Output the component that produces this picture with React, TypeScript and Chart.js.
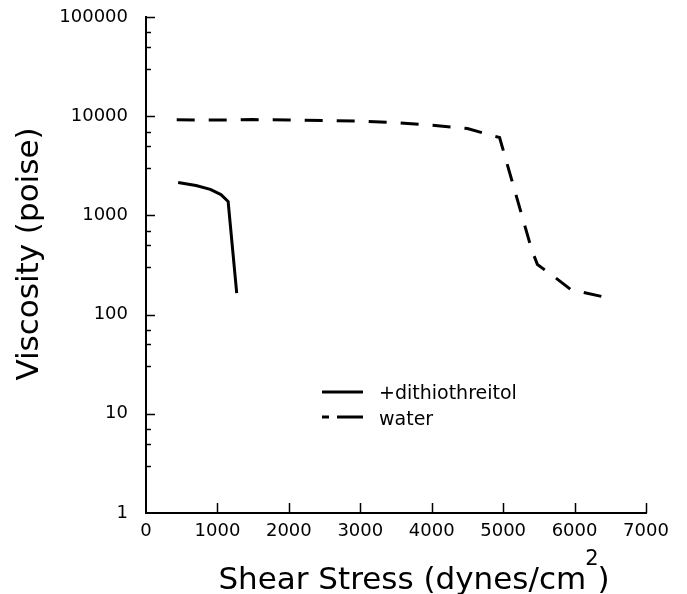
import React, { useEffect, useRef } from "react";
import { Chart, registerables } from "chart.js";

Chart.register(...registerables);

// ---- data ----
const DTT_LABEL = "+dithiothreitol";
const DTT_X = [450, 700, 900, 1050, 1150, 1270];
const DTT_Y = [2150, 2000, 1830, 1620, 1380, 165];

const WATER_LABEL = "water";
const WATER_X = [430, 1000, 1500, 2000, 2500, 3000, 3500, 4000, 4500, 4950, 5400, 5480, 5700, 5950, 6500];
const WATER_Y = [9200, 9150, 9250, 9150, 9050, 8900, 8600, 8100, 7500, 6100, 450, 320, 245, 178, 146];

const X_TICKS = [0, 1000, 2000, 3000, 4000, 5000, 6000, 7000];
const Y_TICKS = [1, 10, 100, 1000, 10000, 100000];
const Y_MINOR_FACTORS = [3, 5, 7];

const X_TITLE = "Shear Stress (dynes/cm";
const X_TITLE_SUP = "2";
const X_TITLE_END = ")";
const Y_TITLE = "Viscosity (poise)";

const FONT = "'DejaVu Sans', sans-serif";

const decorPlugin = {
  id: "decor",
  afterDraw(chart: any) {
    const ctx = chart.ctx;
    const xs = chart.scales.x;
    const ys = chart.scales.y;
    const ca = chart.chartArea;
    ctx.save();
    ctx.strokeStyle = "#000";
    ctx.fillStyle = "#000";
    // axis lines
    ctx.lineWidth = 2;
    ctx.lineCap = "square";
    ctx.beginPath();
    ctx.moveTo(ca.left, ca.top);
    ctx.lineTo(ca.left, ca.bottom);
    ctx.lineTo(ca.right, ca.bottom);
    ctx.stroke();
    ctx.lineCap = "butt";
    ctx.lineWidth = 1.5;
    // x ticks (inward)
    X_TICKS.forEach((v) => {
      if (v === 0) return;
      const px = Math.round(xs.getPixelForValue(v)) + 0.5;
      ctx.beginPath();
      ctx.moveTo(px, ca.bottom);
      ctx.lineTo(px, ca.bottom - 10);
      ctx.stroke();
    });
    // y ticks
    Y_TICKS.forEach((v, i) => {
      if (v !== 1) {
        const py = Math.round(ys.getPixelForValue(v)) + 0.5;
        ctx.beginPath();
        ctx.moveTo(ca.left, py);
        ctx.lineTo(ca.left + 9, py);
        ctx.stroke();
      }
      if (i < Y_TICKS.length - 1) {
        Y_MINOR_FACTORS.forEach((f) => {
          const py = Math.round(ys.getPixelForValue(v * f)) + 0.5;
          ctx.beginPath();
          ctx.moveTo(ca.left, py);
          ctx.lineTo(ca.left + 5, py);
          ctx.stroke();
        });
      }
    });

    // y title
    ctx.font = `31px ${FONT}`;
    ctx.textAlign = "center";
    ctx.textBaseline = "middle";
    ctx.save();
    ctx.translate(30, 254);
    ctx.rotate(-Math.PI / 2);
    ctx.fillText(Y_TITLE, 0, 0);
    ctx.restore();

    // x title with superscript
    ctx.textAlign = "left";
    ctx.textBaseline = "alphabetic";
    const mainFont = `31px ${FONT}`;
    const supFont = `21px ${FONT}`;
    ctx.font = mainFont;
    const w1 = ctx.measureText(X_TITLE).width;
    const w3 = ctx.measureText(X_TITLE_END).width;
    ctx.font = supFont;
    const w2 = ctx.measureText(X_TITLE_SUP).width;
    const total = w1 + w2 + w3 - 2;
    const x0 = 414 - total / 2;
    const base = 589;
    ctx.font = mainFont;
    ctx.fillText(X_TITLE, x0, base);
    ctx.font = supFont;
    ctx.fillText(X_TITLE_SUP, x0 + w1 - 1, base - 24);
    ctx.font = mainFont;
    ctx.fillText(X_TITLE_END, x0 + w1 + w2 - 2, base);

    // legend
    const ds = chart.data.datasets;
    ctx.font = `19px ${FONT}`;
    ctx.lineWidth = 3;
    ctx.setLineDash([]);
    ctx.beginPath();
    ctx.moveTo(322, 392);
    ctx.lineTo(363, 392);
    ctx.stroke();
    ctx.fillText(ds[0].label, 379, 399);
    ctx.beginPath();
    ctx.moveTo(322, 417);
    ctx.lineTo(329, 417);
    ctx.moveTo(337, 417);
    ctx.lineTo(363, 417);
    ctx.stroke();
    ctx.fillText(ds[1].label, 379, 425);
    ctx.restore();
  },
};

export default function App() {
  const ref = useRef<HTMLCanvasElement | null>(null);
  useEffect(() => {
    if (!ref.current) return;
    const chart = new Chart(ref.current, {
      type: "line",
      data: {
        datasets: [
          {
            label: DTT_LABEL,
            data: DTT_X.map((x, i) => ({ x, y: DTT_Y[i] })),
            borderColor: "#000",
            borderWidth: 3,
            pointRadius: 0,
            tension: 0,
            fill: false,
            borderJoinStyle: "round",
          },
          {
            label: WATER_LABEL,
            data: WATER_X.map((x, i) => ({ x, y: WATER_Y[i] })),
            borderColor: "#000",
            borderWidth: 3,
            borderDash: [18, 14],
            borderCapStyle: "butt",
            pointRadius: 0,
            tension: 0,
            fill: false,
          },
        ],
      },
      options: {
        responsive: false,
        animation: false,
        layout: { padding: { left: 0, top: 17, right: 41, bottom: 0 } },
        plugins: { legend: { display: false }, tooltip: { enabled: false } },
        scales: {
          x: {
            type: "linear",
            min: 0,
            max: 7000,
            grid: { display: true, drawOnChartArea: false, drawTicks: true, tickLength: 8, color: "rgba(0,0,0,0)" },
            border: { display: false },
            afterBuildTicks: (s: any) => {
              s.ticks = X_TICKS.map((v) => ({ value: v }));
            },
            afterFit: (s: any) => {
              s.height = 81;
            },
            ticks: {
              autoSkip: false,
              maxRotation: 0,
              padding: 0,
              color: "#000",
              font: { family: FONT, size: 18 },
              callback: (v: any) => String(v),
            },
          },
          y: {
            type: "logarithmic",
            min: 1,
            max: 100000,
            grid: { display: true, drawOnChartArea: false, drawTicks: true, tickLength: 18, color: "rgba(0,0,0,0)" },
            border: { display: false },
            afterBuildTicks: (s: any) => {
              s.ticks = Y_TICKS.map((v) => ({ value: v }));
            },
            afterFit: (s: any) => {
              s.width = 146;
            },
            ticks: {
              autoSkip: false,
              padding: 0,
              color: "#000",
              font: { family: FONT, size: 18 },
              callback: (v: any) => String(v),
            },
          },
        },
      },
      plugins: [decorPlugin],
    } as any);
    return () => chart.destroy();
  }, []);
  return (
    <div style={{ position: "fixed", left: 0, top: 0, width: 687, height: 594, background: "#fff" }}>
      <canvas ref={ref} width={687} height={594} style={{ width: 687, height: 594 }} />
    </div>
  );
}
